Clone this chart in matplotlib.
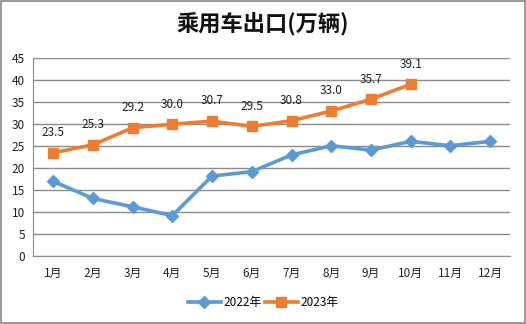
import numpy as np
import matplotlib.pyplot as plt
from matplotlib.patches import Rectangle

plt.rcParams['font.family'] = ['Noto Sans CJK SC', 'DejaVu Sans']

# 数据
months = ['1月', '2月', '3月', '4月', '5月', '6月', '7月', '8月', '9月', '10月', '11月', '12月']
sales_2022 = [17.0, 13.1, 11.2, 9.2, 18.2, 19.2, 23.0, 25.1, 24.1, 26.1, 25.1, 26.1]
sales_2023 = [23.5, 25.3, 29.2, 30.0, 30.7, 29.5, 30.8, 33.0, 35.7, 39.1]

blue = '#5B9BD5'
orange = '#ED7D31'
grid_c = '#8C8C8C'

fig = plt.figure(figsize=(5.26, 3.24), dpi=100)
ax = fig.add_axes([0.0633, 0.2099, 0.9063, 0.6101])

x = np.arange(len(months))
ax.plot(x, sales_2022, color=blue, lw=2.6, marker='D', ms=6.5, label='2022年')
x23 = np.arange(len(sales_2023))
ax.plot(x23, sales_2023, color=orange, lw=2.6, marker='s', ms=7.5, label='2023年')

# 数据标签
for xi, v in zip(x23, sales_2023):
    ax.annotate(f'{v:.1f}', (xi, v), xytext=(0, 14.5), textcoords='offset points',
                ha='center', va='center', fontsize=8.5, color='#222222')

ax.set_xlim(-0.5, len(months) - 0.5)
ax.set_ylim(0, 45)
ax.set_yticks(range(0, 46, 5))
ax.set_xticks(x)
ax.set_xticklabels(months)
ax.tick_params(length=0, labelsize=8.5, colors='#222222')
ax.tick_params(axis='y', pad=6)
ax.tick_params(axis='x', pad=8)
ax.grid(axis='y', color=grid_c, lw=1)
ax.set_axisbelow(True)
for s in ['top', 'right']:
    ax.spines[s].set_visible(False)
ax.spines['left'].set_color(grid_c)
ax.spines['bottom'].set_color(grid_c)

fig.text(0.5, 0.925, '乘用车出口(万辆)', ha='center', va='center',
         fontsize=16, fontweight='bold', color='#111111')

fig.legend(loc='center', bbox_to_anchor=(0.5, 0.065), ncol=2, frameon=False,
           fontsize=8.5, handlelength=2.8, columnspacing=0.3, handletextpad=0.2)

# 外框
fig.patches.append(Rectangle((0.002, 0.003), 0.996, 0.994, transform=fig.transFigure,
                             fill=False, edgecolor='#888888', lw=1.2))

plt.savefig('out.png', dpi=100)
